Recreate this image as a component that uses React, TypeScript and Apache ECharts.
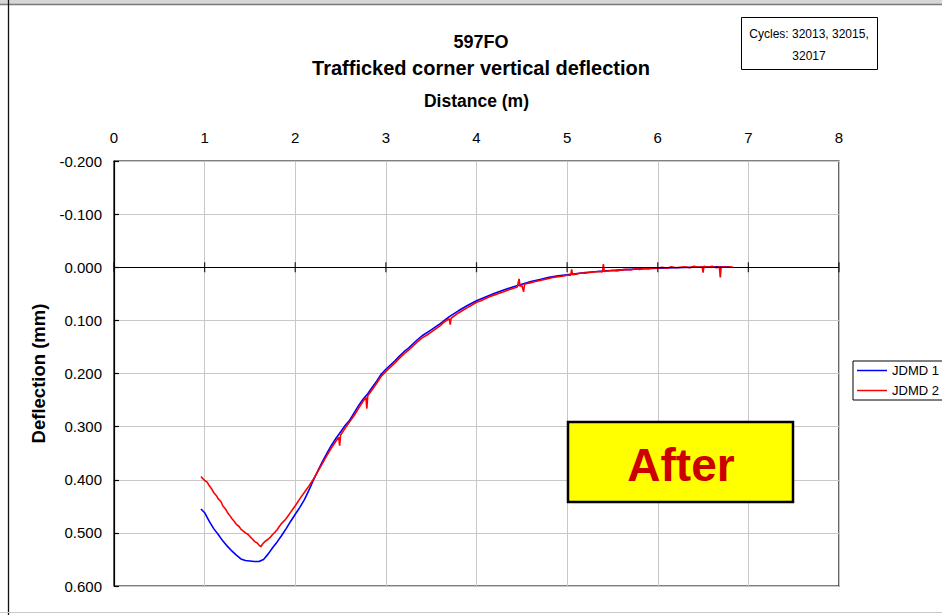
import React, { useEffect, useRef } from "react";
import * as echarts from "echarts";

const xTickValues = [0, 1, 2, 3, 4, 5, 6, 7, 8];
const yTickValues = [-0.2, -0.1, 0, 0.1, 0.2, 0.3, 0.4, 0.5, 0.6];
const seriesNames = ["JDMD 1", "JDMD 2"];
const cyclesText = ["Cycles: 32013, 32015,", "32017"];

// JDMD 1 (blue): distance (m), deflection (mm)
const jdmd1Distance = [
  0.96, 1.0, 1.05, 1.1, 1.15, 1.2, 1.25, 1.3, 1.35, 1.4, 1.45, 1.5, 1.55, 1.6, 1.65, 1.7, 1.75, 1.8, 1.85, 1.9,
  1.95, 2.0, 2.05, 2.1, 2.15, 2.2, 2.25, 2.3, 2.35, 2.4, 2.45, 2.5, 2.55, 2.6, 2.65, 2.7, 2.75, 2.8, 2.85, 2.9,
  2.95, 3.0, 3.05, 3.1, 3.15, 3.2, 3.25, 3.3, 3.35, 3.4, 3.5, 3.6, 3.7, 3.8, 3.9, 4.0, 4.1, 4.2, 4.3, 4.4,
  4.5, 4.6, 4.7, 4.8, 4.9, 5.0, 5.2, 5.4, 5.6, 5.8, 6.0, 6.2, 6.4, 6.6, 6.8,
];
const jdmd1Deflection = [
  0.455, 0.462, 0.478, 0.492, 0.503, 0.515, 0.525, 0.534, 0.542, 0.549, 0.552, 0.553, 0.554, 0.554, 0.55, 0.54, 0.528, 0.517, 0.505, 0.492,
  0.478, 0.465, 0.452, 0.438, 0.42, 0.401, 0.383, 0.366, 0.35, 0.335, 0.322, 0.31, 0.298, 0.288, 0.274, 0.26, 0.248, 0.238, 0.226, 0.214,
  0.201, 0.192, 0.184, 0.176, 0.167, 0.159, 0.152, 0.144, 0.136, 0.129, 0.118, 0.106, 0.093, 0.082, 0.072, 0.063, 0.056, 0.049, 0.043, 0.037,
  0.032, 0.027, 0.023, 0.019, 0.016, 0.014, 0.01, 0.007, 0.005, 0.003, 0.002, 0.001, 0.0, -0.001, -0.001,
];

// JDMD 2 (red): distance (m), deflection (mm)
const jdmd2Distance = [
  0.96, 0.98, 1.0, 1.03, 1.05, 1.08, 1.1, 1.13, 1.15, 1.18, 1.2, 1.23, 1.25, 1.28, 1.3, 1.33, 1.35, 1.38, 1.4, 1.43,
  1.45, 1.48, 1.5, 1.53, 1.55, 1.58, 1.6, 1.62, 1.64, 1.66, 1.7, 1.72, 1.75, 1.78, 1.8, 1.82, 1.85, 1.88, 1.9, 1.93,
  1.95, 2.0, 2.05, 2.1, 2.15, 2.2, 2.25, 2.3, 2.35, 2.4, 2.45, 2.48, 2.49, 2.5, 2.55, 2.6, 2.65, 2.7, 2.75, 2.78,
  2.79, 2.8, 2.85, 2.9, 2.95, 3.0, 3.05, 3.1, 3.15, 3.2, 3.25, 3.3, 3.35, 3.4, 3.45, 3.5, 3.55, 3.6, 3.65, 3.7,
  3.71, 3.72, 3.8, 3.85, 3.9, 3.95, 4.0, 4.05, 4.1, 4.15, 4.2, 4.25, 4.3, 4.35, 4.4, 4.45, 4.47, 4.48, 4.5, 4.52,
  4.53, 4.55, 4.6, 4.65, 4.7, 4.75, 4.8, 4.85, 4.9, 4.95, 5.0, 5.04, 5.05, 5.06, 5.1, 5.15, 5.2, 5.25, 5.3, 5.35,
  5.39, 5.4, 5.41, 5.45, 5.5, 5.55, 5.6, 5.65, 5.7, 5.75, 5.8, 5.85, 5.9, 5.95, 6.0, 6.05, 6.1, 6.15, 6.2, 6.25,
  6.3, 6.35, 6.4, 6.45, 6.49, 6.5, 6.51, 6.55, 6.6, 6.65, 6.68, 6.69, 6.7, 6.75, 6.8, 6.83,
];
const jdmd2Deflection = [
  0.394, 0.398, 0.401, 0.405, 0.411, 0.418, 0.424, 0.43, 0.436, 0.441, 0.449, 0.455, 0.461, 0.468, 0.473, 0.479, 0.484, 0.488, 0.493, 0.497,
  0.5, 0.503, 0.507, 0.512, 0.516, 0.519, 0.523, 0.526, 0.521, 0.517, 0.512, 0.509, 0.503, 0.498, 0.494, 0.489, 0.482, 0.477, 0.473, 0.466,
  0.461, 0.449, 0.436, 0.424, 0.412, 0.399, 0.384, 0.369, 0.354, 0.34, 0.327, 0.32, 0.336, 0.316, 0.303, 0.291, 0.279, 0.265, 0.252, 0.245,
  0.266, 0.242, 0.23, 0.218, 0.205, 0.196, 0.188, 0.18, 0.171, 0.163, 0.156, 0.148, 0.14, 0.133, 0.128, 0.122, 0.116, 0.11, 0.102, 0.097,
  0.108, 0.096, 0.086, 0.081, 0.076, 0.071, 0.066, 0.063, 0.059, 0.055, 0.052, 0.049, 0.046, 0.043, 0.04, 0.037, 0.022, 0.036, 0.034, 0.046,
  0.032, 0.031, 0.029, 0.027, 0.025, 0.023, 0.021, 0.019, 0.018, 0.017, 0.015, 0.015, 0.004, 0.014, 0.013, 0.011, 0.011, 0.01, 0.009, 0.008,
  0.009, -0.006, 0.008, 0.007, 0.006, 0.007, 0.005, 0.004, 0.005, 0.003, 0.004, 0.002, 0.003, 0.001, 0.002, 0.0, 0.002, -0.001, 0.001, 0.0,
  -0.001, 0.001, -0.002, 0.0, -0.001, 0.01, -0.002, 0.0, -0.002, 0.001, -0.001, 0.019, -0.001, 0.0, -0.001, 0.0,
];

const FONT = "Arial, 'Liberation Sans', Helvetica, sans-serif";

export default function App() {
  const ref = useRef<HTMLDivElement>(null);
  useEffect(() => {
    if (!ref.current) return;
    const chart = echarts.init(ref.current, null, { renderer: "svg" });
    const toPairs = (xs: number[], ys: number[]) => xs.map((x, i) => [x, ys[i]]);
    chart.setOption({
      animation: false,
      backgroundColor: "#ffffff",
      textStyle: { fontFamily: FONT },
      grid: {
        left: 114,
        top: 161,
        width: 725,
        height: 425,
        show: true,
        borderColor: "#000",
        borderWidth: 1.2,
        backgroundColor: "transparent",
      },
      legend: {
        orient: "vertical",
        left: 853,
        top: 361,
        data: seriesNames,
        icon: "rect",
        itemWidth: 30,
        itemHeight: 1.5,
        itemGap: 7,
        padding: [3, 8, 3, 4],
        borderColor: "#000",
        borderWidth: 1,
        backgroundColor: "#fff",
        textStyle: { fontSize: 13, color: "#000", fontFamily: FONT },
      },
      xAxis: {
        type: "value",
        position: "top",
        min: xTickValues[0],
        max: xTickValues[xTickValues.length - 1],
        interval: 1,
        name: "Distance (m)",
        nameLocation: "middle",
        nameGap: 51,
        nameTextStyle: { fontSize: 17.5, fontWeight: "bold", color: "#000", fontFamily: FONT },
        axisLine: { show: false, onZero: false },
        axisTick: { show: false },
        axisLabel: { fontSize: 15, color: "#000", margin: 16, fontFamily: FONT },
        splitLine: { show: true, lineStyle: { color: "#c8c8c8", width: 1 } },
      },
      yAxis: {
        type: "value",
        inverse: true,
        min: yTickValues[0],
        max: yTickValues[yTickValues.length - 1],
        interval: 0.1,
        name: "Deflection (mm)",
        nameLocation: "middle",
        nameRotate: 90,
        nameGap: 66,
        nameTextStyle: { fontSize: 18.5, fontWeight: "bold", color: "#000", fontFamily: FONT },
        axisLine: { show: true, onZero: false, lineStyle: { color: "#000", width: 1.2 } },
        axisTick: { show: true, inside: true, length: 5, lineStyle: { color: "#000", width: 1.2 } },
        axisLabel: {
          fontSize: 15,
          color: "#000",
          margin: 12,
          fontFamily: FONT,
          formatter: (v: number) => v.toFixed(3),
        },
        splitLine: { show: true, lineStyle: { color: "#c8c8c8", width: 1 } },
      },
      series: [
        {
          name: "zeroAxis",
          type: "scatter",
          data: xTickValues.map((x) => [x, 0]),
          symbol: "rect",
          symbolSize: [1.3, 10],
          itemStyle: { color: "#000" },
          silent: true,
          z: 5,
          markLine: {
            silent: true,
            symbol: "none",
            label: { show: false },
            lineStyle: { color: "#000", width: 1.2, type: "solid" },
            data: [{ yAxis: 0 }],
          },
        },
        {
          name: seriesNames[0],
          type: "line",
          data: toPairs(jdmd1Distance, jdmd1Deflection),
          showSymbol: false,
          symbol: "none",
          color: "#0000ff",
          lineStyle: { color: "#0000ff", width: 1.6 },
          z: 3,
        },
        {
          name: seriesNames[1],
          type: "line",
          data: toPairs(jdmd2Distance, jdmd2Deflection),
          showSymbol: false,
          symbol: "none",
          color: "#ff0000",
          lineStyle: { color: "#ff0000", width: 1.6 },
          z: 4,
        },
      ],
      graphic: [
        { type: "rect", shape: { x: 0, y: 0, width: 942, height: 4 }, style: { fill: "#d6d6d6" }, silent: true },
        { type: "line", shape: { x1: 0, y1: 4.5, x2: 942, y2: 4.5 }, style: { stroke: "#7a7a7a", lineWidth: 1.5 }, silent: true },
        { type: "line", shape: { x1: 8.5, y1: 0, x2: 8.5, y2: 615 }, style: { stroke: "#111", lineWidth: 1.3 }, silent: true },
        { type: "line", shape: { x1: 0, y1: 612.5, x2: 942, y2: 612.5 }, style: { stroke: "#c8c8c8", lineWidth: 1 }, silent: true },
        {
          type: "text",
          x: 481,
          y: 42,
          style: { text: "597FO", font: `bold 18px ${FONT}`, fill: "#000", align: "center", verticalAlign: "middle" },
        },
        {
          type: "text",
          x: 481,
          y: 68,
          style: {
            text: "Trafficked corner vertical deflection",
            font: `bold 20px ${FONT}`,
            fill: "#000",
            align: "center",
            verticalAlign: "middle",
          },
        },
        { type: "rect", shape: { x: 741.5, y: 17.5, width: 136, height: 52 }, style: { fill: "#fff", stroke: "#000", lineWidth: 1 } },
        {
          type: "text",
          x: 809,
          y: 34,
          style: { text: cyclesText[0], font: `12px ${FONT}`, fill: "#000", align: "center", verticalAlign: "middle" },
        },
        {
          type: "text",
          x: 809,
          y: 56,
          style: { text: cyclesText[1], font: `12px ${FONT}`, fill: "#000", align: "center", verticalAlign: "middle" },
        },
        {
          type: "rect",
          shape: { x: 568, y: 422, width: 225, height: 80 },
          style: { fill: "#ffff00", stroke: "#000", lineWidth: 2.5 },
          z: 100,
        },
        {
          type: "text",
          x: 681,
          y: 465,
          z: 101,
          style: { text: "After", font: `bold 46px ${FONT}`, fill: "#cc0000", align: "center", verticalAlign: "middle" },
        },
      ],
    });
    return () => chart.dispose();
  }, []);
  return <div ref={ref} style={{ position: "absolute", left: 0, top: 0, width: 942, height: 615 }} />;
}
